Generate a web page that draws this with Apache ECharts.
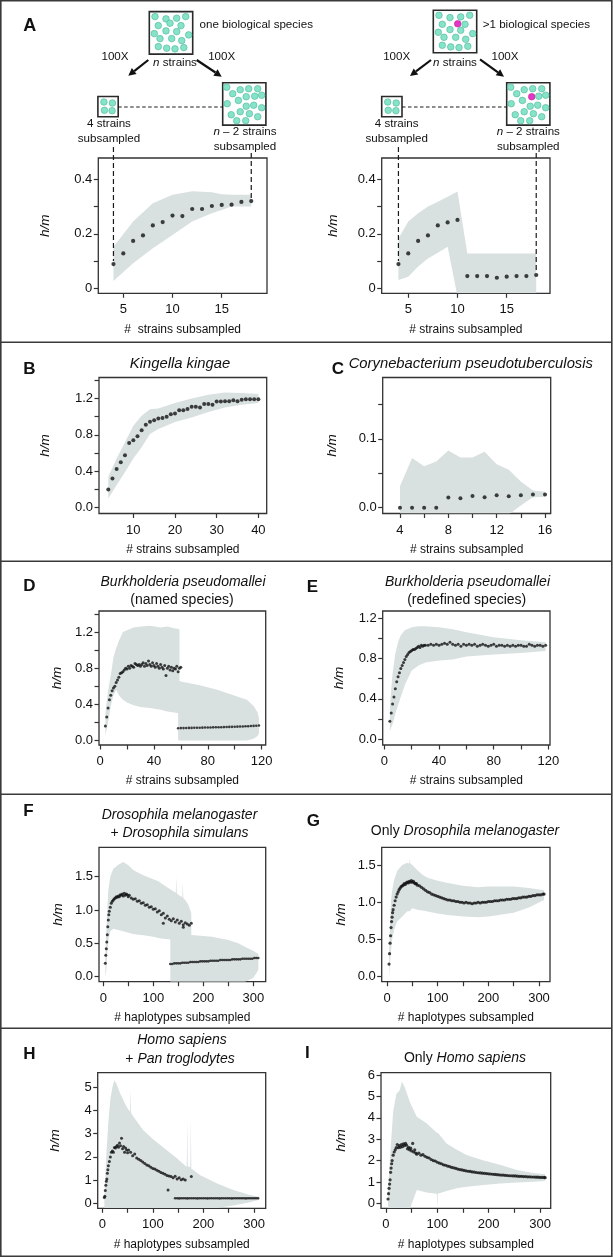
<!DOCTYPE html>
<html><head><meta charset="utf-8">
<script src="https://cdn.jsdelivr.net/npm/echarts@6/dist/echarts.min.js"></script>
<style>html,body{margin:0;padding:0;background:#fff}#c{width:613px;height:1258px}</style>
</head><body><div id="c"></div>
<script>
// ---------------- DATA ----------------
// Panel A
const aX = [4,5,6,7,8,9,10,11,12,13,14,15,16,17,18];
const aOneY = [0.089,0.128,0.174,0.194,0.231,0.243,0.267,0.265,0.291,0.291,0.302,0.306,0.307,0.317,0.320];
const aOneBandX = [4,6,8,10,12,14,15,16,18];
const aOneUpper = [0.153,0.245,0.312,0.343,0.356,0.352,0.345,0.343,0.343];
const aOneLower = [0.027,0.092,0.147,0.196,0.245,0.275,0.287,0.300,0.300];
const aMultiY = [0.089,0.128,0.174,0.194,0.231,0.242,0.251,0.045,0.045,0.045,0.039,0.043,0.045,0.045,0.049];
const aMultiBandX = [4,5,6,7,8,9,10,11,18];
const aMultiUpper = [0.183,0.245,0.275,0.300,0.318,0.336,0.355,0.128,0.128];
const aMultiLower = [0.031,0.043,0.080,0.110,0.131,0.153,-0.03,-0.03,-0.03];
const aXTicks = [5,10,15];
const aXLabels = ['5','10','15'];
const aYTicks = [0,0.1,0.2,0.3,0.4];
const aYLabels = ['0','0.2','0.4'];

// Panel B  Kingella kingae
const bX = [4,5,6,7,8,9,10,11,12,13,14,15,16,17,18,19,20,21,22,23,24,25,26,27,28,29,30,31,32,33,34,35,36,37,38,39,40];
const bY = [0.20,0.32,0.425,0.50,0.575,0.71,0.74,0.785,0.85,0.91,0.945,0.96,0.98,0.985,1.0,1.025,1.035,1.07,1.07,1.085,1.11,1.11,1.10,1.14,1.14,1.13,1.165,1.165,1.17,1.17,1.18,1.17,1.185,1.19,1.19,1.19,1.19];
const bBandX = [4,6,8,10,12,14,16,20,24,28,32,36,40];
const bUpper = [0.34,0.54,0.72,0.90,1.01,1.08,1.09,1.15,1.20,1.24,1.265,1.26,1.25];
const bLower = [0.10,0.25,0.39,0.54,0.665,0.81,0.865,0.94,0.99,1.05,1.10,1.13,1.15];
const bXTicks = [10,20,30,40];
const bXLabels = ['10','20','30','40'];
const bYTicks = [0,0.2,0.4,0.6,0.8,1.0,1.2,1.4];
const bYLabels = ['0.0','0.4','0.8','1.2'];

// Panel C  Corynebacterium pseudotuberculosis
const cX = [4,5,6,7,8,9,10,11,12,13,14,15,16];
const cY = [0,0,0,0,0.0146,0.0137,0.017,0.015,0.018,0.0166,0.018,0.019,0.019];
const cUpper = [0.031,0.072,0.060,0.067,0.083,0.073,0.073,0.081,0.063,0.055,0.038,0.025,0.023];
const cLower = [-0.01,-0.01,-0.01,-0.01,-0.01,-0.01,-0.01,-0.01,-0.01,-0.01,0.003,0.015,0.016];
const cXTicks = [4,6,8,10,12,14,16];
const cXLabels = ['4','8','12','16'];
const cYTicks = [0,0.05,0.1,0.15];
const cYLabels = ['0.0','0.1'];

// Panel D  B. pseudomallei (named species)
const dX1 = [4,5,6,7,8,9,10,11,12,13,14,15,16,17,18,19,20,21,22,23,24,25,26,27,28,29,30,31,32,33,34,35,36,37,38,39,40,41,42,43,44,45,46,47,48,49,50,51,52,53,54,55,56,57,58,59,60];
const dY1 = [0.16,0.26,0.36,0.45,0.50,0.55,0.58,0.60,0.64,0.67,0.70,0.74,0.75,0.76,0.78,0.80,0.79,0.82,0.80,0.83,0.82,0.81,0.85,0.84,0.83,0.84,0.82,0.84,0.86,0.82,0.85,0.83,0.88,0.84,0.82,0.86,0.83,0.81,0.85,0.82,0.80,0.84,0.81,0.79,0.83,0.72,0.80,0.82,0.78,0.81,0.77,0.80,0.79,0.82,0.76,0.80,0.81];
const dX2 = [58,60,62,64,66,68,70,72,74,76,78,80,82,84,86,88,90,92,94,96,98,100,102,104,106,108,110,112,114,116,118];
const dY2 = [0.136,0.137,0.137,0.138,0.139,0.139,0.140,0.141,0.141,0.142,0.143,0.143,0.144,0.145,0.146,0.146,0.147,0.148,0.149,0.150,0.151,0.152,0.153,0.154,0.155,0.157,0.158,0.160,0.161,0.163,0.165];
const dBand1X = [4,6,8,10,12,14,17,20,25,30,37,45,50,55,59];
const dUpper1 = [0.30,0.55,0.72,0.92,1.02,1.10,1.20,1.22,1.25,1.26,1.27,1.25,1.26,1.24,1.23];
const dLower1 = [0.05,0.20,0.38,0.50,0.56,0.50,0.45,0.42,0.39,0.37,0.36,0.34,0.32,0.31,0.30];
const dBand2X = [58,61,74,87,99,109,114,117,118];
const dUpper2 = [0.66,0.65,0.61,0.56,0.50,0.45,0.38,0.31,0.24];
const dLower2 = [0.0,0.0,0.0,0.0,0.0,0.0,0.02,0.05,0.08];
const dXTicks = [0,20,40,60,80,100,120];
const dXLabels = ['0','40','80','120'];
const dYTicks = [0,0.2,0.4,0.6,0.8,1.0,1.2,1.4];
const dYLabels = ['0.0','0.4','0.8','1.2'];

// Panel E  B. pseudomallei (redefined species)
const eX = [4,5,6,7,8,9,10,11,12,13,14,15,16,17,18,19,20,21,22,23,24,25,26,27,28,29,30,
  32,34,36,38,40,42,44,46,48,50,52,54,56,58,60,62,64,66,68,70,72,74,76,78,80,82,84,86,88,90,92,94,96,98,100,102,104,106,108,110,112,114,116,118];
const eY = [0.18,0.26,0.35,0.42,0.50,0.57,0.62,0.66,0.70,0.73,0.76,0.79,0.82,0.84,0.86,0.87,0.88,0.89,0.89,0.90,0.91,0.92,0.91,0.93,0.92,0.93,0.93,
  0.93,0.94,0.93,0.94,0.93,0.94,0.95,0.94,0.96,0.94,0.93,0.94,0.92,0.94,0.93,0.94,0.93,0.94,0.92,0.93,0.94,0.93,0.92,0.93,0.94,0.92,0.93,0.93,0.92,0.93,0.92,0.93,0.92,0.93,0.93,0.92,0.92,0.94,0.93,0.92,0.93,0.93,0.92,0.93];
const eBandX = [4,5,6,8,10,12,15,20,25,30,40,50,60,80,100,118];
const eUpper = [0.30,0.50,0.65,0.85,0.96,1.03,1.08,1.11,1.12,1.12,1.11,1.09,1.06,1.01,0.98,0.96];
const eLower = [0.08,0.12,0.15,0.25,0.34,0.42,0.54,0.68,0.73,0.76,0.78,0.79,0.82,0.84,0.855,0.875];
const eYTicks = [0,0.2,0.4,0.6,0.8,1.0,1.2];
const eYLabels = ['0.0','0.4','0.8','1.2'];

// Panel F  D. melanogaster + D. simulans
const fX1 = [4,5,6,7,8,9,10,11,12,14,16,18,20,22,24,26,28,30,32,34,36,38,40,42,44,46,48,50,52,56,60,64,68,72,76,80,84,88,92,96,100,104,108,112,116,120,124,128,132,136,140,144,148,152,156,160,164,168,172,176,120,160];
const fY1 = [0.2,0.32,0.42,0.52,0.63,0.75,0.85,0.93,0.98,1.04,1.10,1.13,1.15,1.17,1.18,1.20,1.19,1.21,1.20,1.23,1.22,1.24,1.21,1.25,1.22,1.24,1.23,1.20,1.22,1.18,1.16,1.17,1.13,1.14,1.10,1.11,1.07,1.08,1.04,1.05,1.01,1.02,0.97,0.99,0.93,0.95,0.88,0.91,0.86,0.84,0.87,0.82,0.85,0.80,0.83,0.78,0.81,0.79,0.77,0.80,0.80,0.74];
const fX2 = [134,138,142,146,150,154,158,162,166,170,174,178,182,186,190,194,198,202,206,210,214,218,222,226,230,234,238,242,246,250,254,258,262,266,270,274,278,282,286,290,294,298,302,306,310];
const fY2 = [0.19,0.19,0.20,0.20,0.20,0.20,0.21,0.21,0.21,0.21,0.22,0.22,0.22,0.22,0.22,0.23,0.23,0.23,0.23,0.23,0.24,0.24,0.24,0.24,0.24,0.25,0.25,0.25,0.25,0.25,0.25,0.26,0.26,0.26,0.26,0.26,0.27,0.27,0.27,0.27,0.27,0.27,0.28,0.28,0.28];
const fBand1X = [4,6,8,10,14,20,30,40,50,60,70,80,90,100,110,120,130,140,145,146,147,150,158,159,160,165,170,176];
const fUpper1 = [0.3,0.7,1.0,1.3,1.5,1.62,1.68,1.72,1.67,1.6,1.56,1.52,1.49,1.46,1.43,1.38,1.33,1.28,1.26,1.50,1.25,1.23,1.19,1.42,1.18,1.14,1.08,0.95];
const fLower1 = [0.0,0.1,0.35,0.55,0.68,0.72,0.70,0.68,0.66,0.64,0.63,0.62,0.61,0.60,0.58,0.57,0.56,0.55,0.54,0.54,0.54,0.53,0.52,0.52,0.52,0.51,0.50,0.50];
const fBand2X = [134,150,176,200,217,250,270,283,300,310];
const fUpper2 = [0.62,0.63,0.625,0.61,0.60,0.55,0.50,0.45,0.39,0.34];
const fLower2 = [-0.08,-0.08,-0.08,-0.08,-0.08,-0.08,-0.08,-0.08,-0.02,0.10];
const fXTicks = [0,50,100,150,200,250,300];
const fXLabels = ['0','100','200','300'];
const fYTicks = [0,0.5,1.0,1.5];
const fYLabels = ['0.0','0.5','1.0','1.5'];

// Panel G  Only D. melanogaster
const gX = [4,5,6,7,8,9,10,11,12,14,16,18,20,22,24,26,28,30,32,34,36,38,40,42,44,46,48,50,52,54,56,58,60,
  64,68,72,76,80,84,88,92,96,100,104,108,112,116,120,124,128,132,136,140,144,148,152,156,160,164,168,172,176,180,
  184,188,192,196,200,204,208,212,216,220,224,228,232,236,240,244,248,252,256,260,264,268,272,276,280,284,288,292,296,300,304,308,310];
const gY = [0.17,0.31,0.45,0.55,0.66,0.74,0.80,0.86,0.90,0.96,1.02,1.07,1.11,1.14,1.17,1.19,1.21,1.22,1.23,1.25,1.24,1.26,1.27,1.26,1.28,1.27,1.29,1.27,1.28,1.26,1.25,1.25,1.23,
  1.22,1.20,1.18,1.16,1.14,1.13,1.11,1.10,1.09,1.08,1.07,1.06,1.05,1.04,1.03,1.03,1.02,1.02,1.01,1.01,1.00,1.00,0.99,1.00,0.99,0.99,0.98,0.99,0.99,1.00,
  0.99,1.00,1.00,1.00,1.01,1.01,1.01,1.02,1.02,1.02,1.03,1.03,1.03,1.04,1.04,1.04,1.05,1.05,1.05,1.06,1.06,1.07,1.07,1.07,1.08,1.08,1.09,1.09,1.10,1.10,1.10,1.11,1.11];
const gBandX = [4,6,8,10,14,20,30,40,44,45,46,50,60,70,80,100,120,150,180,200,250,280,310];
const gUpper = [0.3,0.72,1.03,1.15,1.3,1.42,1.5,1.53,1.52,1.59,1.52,1.5,1.43,1.37,1.33,1.29,1.26,1.22,1.2,1.21,1.21,1.19,1.16];
const gLower = [0.0,0.2,0.36,0.5,0.63,0.74,0.81,0.88,0.88,0.88,0.89,0.92,0.90,0.89,0.875,0.85,0.83,0.81,0.80,0.81,0.86,0.93,1.03];

// Panel H  Homo sapiens + Pan troglodytes
const hX1 = [4,5,6,7,8,9,10,11,12,14,16,18,20,22,24,26,28,30,32,34,36,38,40,42,44,46,48,50,52,56,60,64,68,72,76,80,84,88,92,96,100,104,108,112,116,120,124,128,130,132,136,140,144,148,152,156,160,164,176];
const hY1 = [0.25,0.30,0.55,0.78,0.95,1.05,1.30,1.45,1.62,1.80,2.00,2.20,2.25,2.20,2.40,2.38,2.45,2.50,2.42,2.60,2.48,2.80,2.35,2.45,2.20,2.38,2.30,2.18,2.30,2.20,2.05,2.12,1.95,1.90,1.85,1.78,1.72,1.65,1.62,1.55,1.50,1.48,1.42,1.38,1.33,1.30,1.25,1.20,0.57,1.18,1.15,1.10,1.17,1.05,1.10,1.02,1.05,1.00,1.15];
const hX2 = [144,148,152,156,160,164,168,172,176,180,184,188,192,196,200,204,208,212,216,220,224,228,232,236,240,244,248,252,256,260,264,268,272,276,280,284,288,292,296,300,304,308];
const hY2 = [0.22,0.22,0.21,0.22,0.22,0.22,0.21,0.22,0.22,0.22,0.22,0.21,0.22,0.22,0.22,0.22,0.21,0.22,0.22,0.22,0.22,0.22,0.21,0.22,0.22,0.22,0.22,0.22,0.21,0.22,0.22,0.22,0.22,0.22,0.22,0.21,0.22,0.22,0.22,0.22,0.22,0.22];
const hBandX = [4,6,8,10,12,16,20,24,28,35,48,55,56,57,61,81,101,127,147,165,167,168,169,174,175,176,193,226,259,292,310];
const hUpper = [0.3,1.2,2.1,2.8,3.5,4.5,5.0,5.3,5.15,4.75,4.15,3.95,4.9,3.9,3.75,3.15,2.75,2.3,1.95,1.6,1.6,3.6,1.6,1.55,3.7,1.5,1.22,0.86,0.57,0.36,0.28];
const hLower = [-0.2,-0.2,-0.2,-0.2,-0.2,-0.2,-0.2,-0.2,-0.2,-0.2,-0.2,-0.2,-0.2,-0.2,-0.2,-0.2,-0.2,-0.2,-0.2,-0.2,-0.2,-0.2,-0.2,-0.2,-0.2,-0.2,-0.2,-0.2,-0.1,0.05,0.15];
const hYTicks = [0,1,2,3,4,5];
const hYLabels = ['0','1','2','3','4','5'];

// Panel I  Only Homo sapiens
const iX = [4,5,6,7,8,9,10,11,12,14,16,18,20,22,24,26,28,30,32,34,36,38,40,42,44,46,48,50,52,54,56,58,60,
  64,68,72,76,80,84,88,92,96,100,104,108,112,116,120,124,128,132,136,140,144,148,152,156,160,164,168,172,176,180,
  184,188,192,196,200,204,208,212,216,220,224,228,232,236,240,244,248,252,256,260,264,268,272,276,280,284,288,292,296,300,304,308,310];
const iY = [0.20,0.45,0.70,0.90,1.10,1.45,1.65,1.85,2.00,2.25,2.40,2.50,2.60,2.75,2.60,2.70,2.62,2.75,2.65,2.78,2.70,2.80,2.72,2.55,2.62,2.50,2.58,2.45,2.80,2.40,2.50,2.35,2.30,
  2.35,2.25,2.28,2.20,2.15,2.12,2.05,2.00,1.98,1.92,1.88,1.85,1.80,1.78,1.74,1.72,1.68,1.66,1.63,1.60,1.58,1.56,1.54,1.52,1.50,1.49,1.47,1.46,1.44,1.43,
  1.42,1.41,1.40,1.39,1.38,1.37,1.36,1.35,1.34,1.33,1.32,1.32,1.31,1.30,1.29,1.29,1.28,1.28,1.27,1.26,1.26,1.25,1.25,1.24,1.24,1.23,1.23,1.22,1.22,1.21,1.21,1.21,1.20];
const iBandX = [4,8,14,20,27,31,37,47,60,79,99,100,101,118,138,157,190,222,255,287,310];
const iUpper = [0.5,2.2,4.3,5.1,5.3,5.7,5.4,4.7,4.05,3.75,3.3,3.3,3.3,2.8,2.5,2.26,2.0,1.8,1.56,1.42,1.36];
const iLower = [-0.23,-0.23,-0.23,-0.23,-0.23,-0.23,-0.23,-0.23,0.62,0.50,0.45,-0.23,0.45,0.58,0.70,0.78,0.86,0.93,0.97,1.01,1.04];
const iYTicks = [0,1,2,3,4,5,6];
const iYLabels = ['0','1','2','3','4','5','6'];

// ---------------- STYLE ----------------
const HAS_NARROW = (() => {
  const c = document.createElement('canvas').getContext('2d');
  const t = 'abcdefghijklmnopqrstuvwxyz0123456789';
  c.font = '40px monospace'; const w1 = c.measureText(t).width;
  c.font = '40px "Liberation Sans Narrow", monospace'; const w2 = c.measureText(t).width;
  return Math.abs(w1 - w2) > 1;
})();
const FF = HAS_NARROW ? '"Liberation Sans Narrow", "Liberation Sans", sans-serif' : '"Liberation Sans", Arial, sans-serif';
const FB = '"Liberation Sans", Arial, sans-serif';
const S = HAS_NARROW ? {tick:15, xname:14.4, yname:16, title:17.5, title2:17, diag:13.9}
                     : {tick:13, xname:12, yname:13.5, title:14.8, title2:14, diag:11.6};
const TXT = '#111', AX = '#333', BAND = '#d9e0e0', DOT = '#111';
const MINT = '#84e3c9', MINT_S = '#4fb596', MAG = '#e635c2';

const layout = [
 {g:[98.3,158,267,293.3], x:[2.46,19.6], y:[-0.018,0.478], xt:aXTicks, xl:aXLabels, yt:aYTicks, yl:aYLabels, xn:'#  strains subsampled', yc:53},
 {g:[381.7,158,550,293.3], x:[2.3,19.4], y:[-0.018,0.478], xt:aXTicks, xl:aXLabels, yt:aYTicks, yl:aYLabels, xn:'# strains subsampled', yc:48.5},
 {g:[99,377.5,266.7,513.5], x:[1.77,42.0], y:[-0.064,1.43], xt:bXTicks, xl:bXLabels, yt:bYTicks, yl:bYLabels, xn:'# strains subsampled', yc:54},
 {g:[382.7,377.5,550.7,513.5], x:[2.57,16.47], y:[-0.0085,0.189], xt:cXTicks, xl:cXLabels, yt:cYTicks, yl:cYLabels, xn:'# strains subsampled', yc:50},
 {g:[99,611,265.7,745], x:[-0.74,123], y:[-0.05,1.432], xt:dXTicks, xl:dXLabels, yt:dYTicks, yl:dYLabels, xn:'# strains subsampled', yc:41.5},
 {g:[382.7,611,550,745], x:[-1.24,121.2], y:[-0.056,1.27], xt:dXTicks, xl:dXLabels, yt:eYTicks, yl:eYLabels, xn:'# strains subsampled', yc:43},
 {g:[99,847.3,265.7,981.7], x:[-8.6,324.8], y:[-0.075,1.94], xt:fXTicks, xl:fXLabels, yt:fYTicks, yl:fYLabels, xn:'# haplotypes subsampled', yc:41},
 {g:[381.7,847.3,550,981.7], x:[-10.5,321.7], y:[-0.067,1.738], xt:fXTicks, xl:fXLabels, yt:fYTicks, yl:fYLabels, xn:'# haplotypes subsampled', yc:40},
 {g:[97.7,1072.7,265.7,1208.3], x:[-9.1,323.1], y:[-0.216,5.63], xt:fXTicks, xl:fXLabels, yt:hYTicks, yl:hYLabels, xn:'# haplotypes subsampled', yc:42},
 {g:[381,1072.7,550.7,1208.3], x:[-9.7,320.8], y:[-0.234,6.11], xt:fXTicks, xl:fXLabels, yt:iYTicks, yl:iYLabels, xn:'# haplotypes subsampled', yc:40}
];

function fmt(labels) {
  return v => { const k = labels.findIndex(l => Math.abs(Number(l) - v) < 1e-9); return k >= 0 ? labels[k] : ''; };
}
const grids = [], xAxes = [], yAxes = [];
layout.forEach((L, i) => {
  grids.push({left:L.g[0], top:L.g[1], width:L.g[2]-L.g[0], height:L.g[3]-L.g[1], show:true,
    borderColor:AX, borderWidth:1.3, backgroundColor:'transparent', containLabel:false});
  xAxes.push({type:'value', gridIndex:i, min:L.x[0], max:L.x[1],
    axisLine:{show:false, onZero:false}, splitLine:{show:false},
    axisTick:{show:true, inside:false, length:4.5, lineStyle:{color:AX, width:1.2}, customValues:L.xt},
    axisLabel:{show:true, margin:16.5 - S.tick/2, color:TXT, fontSize:S.tick, fontFamily:FF,
      customValues:L.xl.map(Number), formatter:fmt(L.xl)},
    name:L.xn, nameLocation:'middle', nameGap:36 - S.xname/2,
    nameTextStyle:{color:TXT, fontSize:S.xname, fontFamily:FF}});
  yAxes.push({type:'value', gridIndex:i, min:L.y[0], max:L.y[1],
    axisLine:{show:false, onZero:false}, splitLine:{show:false},
    axisTick:{show:true, inside:false, length:4.5, lineStyle:{color:AX, width:1.2}, customValues:L.yt},
    axisLabel:{show:true, margin:6, color:TXT, fontSize:S.tick, fontFamily:FF,
      customValues:L.yl.map(Number), formatter:fmt(L.yl)},
    name:'h/m', nameLocation:'middle', nameGap:L.yc - S.yname/2,
    nameTextStyle:{color:TXT, fontSize:S.yname, fontFamily:FF, fontStyle:'italic'}});
});

function band(idx, xs, up, lo) {
  return {type:'custom', xAxisIndex:idx, yAxisIndex:idx, silent:true, clip:true, z:1,
    data:[[xs[0], up[0]]],
    renderItem(params, api) {
      const pts = [];
      for (let k = 0; k < xs.length; k++) pts.push(api.coord([xs[k], up[k]]));
      for (let k = xs.length - 1; k >= 0; k--) pts.push(api.coord([xs[k], lo[k]]));
      const cs = params.coordSys;
      return {type:'polygon', shape:{points:pts}, style:{fill:BAND},
        clipPath:{type:'rect', shape:{x:cs.x, y:cs.y, width:cs.width, height:cs.height}}};
    }};
}
function dots(idx, xs, ys, size) {
  return {type:'scatter', xAxisIndex:idx, yAxisIndex:idx, symbolSize:size, silent:true, z:3,
    itemStyle:{color:DOT}, data:xs.map((x, k) => [x, ys[k]])};
}
const series = [
  band(0, aOneBandX, aOneUpper, aOneLower), dots(0, aX, aOneY, 4.2),
  band(1, aMultiBandX, aMultiUpper, aMultiLower), dots(1, aX, aMultiY, 4.2),
  band(2, bBandX, bUpper, bLower), dots(2, bX, bY, 4),
  band(3, cX, cUpper, cLower), dots(3, cX, cY, 4),
  band(4, dBand1X, dUpper1, dLower1), band(4, dBand2X, dUpper2, dLower2), dots(4, dX1, dY1, 3), dots(4, dX2, dY2, 2.6),
  band(5, eBandX, eUpper, eLower), dots(5, eX, eY, 3),
  band(6, fBand1X, fUpper1, fLower1), band(6, fBand2X, fUpper2, fLower2), dots(6, fX1, fY1, 3), dots(6, fX2, fY2, 2.6),
  band(7, gBandX, gUpper, gLower), dots(7, gX, gY, 3.2),
  band(8, hBandX, hUpper, hLower), dots(8, hX1, hY1, 3), dots(8, hX2, hY2, 2.6),
  band(9, iBandX, iUpper, iLower), dots(9, iX, iY, 3.2)
];

const chart = echarts.init(document.getElementById('c'), null, {renderer:'canvas'});
chart.setOption({animation:false, backgroundColor:'#fff', grid:grids, xAxis:xAxes, yAxis:yAxes, series});

// ---------------- DECORATION ----------------
const els = [];
function txt(x, y, text, o) {
  const st = Object.assign({text, fill:TXT, fontSize:S.diag, fontFamily:FF, align:'center', verticalAlign:'middle'}, o || {});
  if (st.rich === true) {
    st.rich = {i:{fontStyle:'italic', fontSize:st.fontSize, fontFamily:st.fontFamily, fill:TXT}};
  }
  els.push({type:'text', x, y, z:20, style:st});
}
function line(x1, y1, x2, y2, o) {
  els.push({type:'line', z:20, shape:{x1, y1, x2, y2}, style:Object.assign({stroke:'#1a1a1a', lineWidth:1.2}, o || {})});
}
function arrow(x1, y1, x2, y2) {
  const dx = x2 - x1, dy = y2 - y1, L = Math.hypot(dx, dy), ux = dx / L, uy = dy / L, hl = 7.5, hw = 3.8;
  const bx = x2 - ux * hl, by = y2 - uy * hl;
  els.push({type:'line', z:20, shape:{x1, y1, x2:bx, y2:by}, style:{stroke:'#111', lineWidth:2.2}});
  els.push({type:'polygon', z:20, shape:{points:[[x2, y2], [bx - uy * hw, by + ux * hw], [bx + uy * hw, by - ux * hw]]}, style:{fill:'#111'}});
}
const BIG = [[5.7,5],[16.7,7.3],[27.4,6.6],[36.4,5],[9,14],[20.7,11.6],[31.7,14],[5,22],[16.7,19.3],[27.4,20],[39.4,23.3],
  [10.7,27],[22.4,27],[32.4,29],[9,35],[17.4,36.6],[25.7,37.3],[34.5,36]];
const BIG2 = [[4,4.5],[10,11],[17.5,7],[26,6],[35,6],[15.7,17.7],[23.5,14],[32,13.5],[39,12.5],[4.5,21],[23.5,23.5],[31,22.5],[39,25],
  [8.5,32],[17.5,29],[26.7,31],[14,38],[23,38],[35,34]];
const SMALL = [[6,5.5],[14.5,6.5],[6.5,13.8],[14.2,14.2]];
function box(x, y, w, h, circles, magIdx, magPos) {
  els.push({type:'rect', z:19, shape:{x, y, width:w, height:h}, style:{fill:'#fff', stroke:'#2a2a2a', lineWidth:1.6}});
  circles.forEach((c, k) => {
    let cx = c[0], cy = c[1], fill = MINT, stroke = MINT_S;
    if (k === magIdx) { cx = magPos[0]; cy = magPos[1]; fill = MAG; stroke = '#c0209f'; }
    els.push({type:'circle', z:20, shape:{cx:x + cx, cy:y + cy, r:3.3}, style:{fill, stroke, lineWidth:0.6}});
  });
}
function diagram(D) {
  box(D.bx, D.by, 43.4, 42.5, BIG, D.mag ? 5 : -1, [24.4, 13.5]);
  txt(D.lblX, 25, D.lbl, {align:'left'});
  txt(D.h1, 56.7, '100X');
  txt(D.n, 62.5, '{i|n} strains', {rich:true});
  txt(D.h2, 56.7, '100X');
  arrow(D.a1[0], D.a1[1], D.a1[2], D.a1[3]);
  arrow(D.a2[0], D.a2[1], D.a2[2], D.a2[3]);
  box(D.sx, 96.5, 20.3, 20.3, SMALL, -1);
  line(D.sx + 20.3, 107, D.nx, 107, {lineDash:[3.5, 2.5], lineWidth:1});
  box(D.nx, 82.7, 43.2, 42.4, BIG2, D.mag ? 6 : -1, [25, 14]);
  txt(D.fourX, 123.3, '4 strains');
  txt(D.fourX, 138.3, 'subsampled');
  txt(D.nmX, 131.7, '{i|n} \u2013 2 strains', {rich:true});
  txt(D.nmX, 146.7, 'subsampled');
}
diagram({bx:149.3, by:11.6, lblX:199.5, lbl:'one biological species', h1:115, n:175, h2:221.7,
  a1:[148.3,60,128.3,75.7], a2:[196.7,60,221.7,76.7], sx:97.9, nx:222.7, fourX:109, nmX:245, mag:false});
diagram({bx:433.3, by:10.3, lblX:482.7, lbl:'>1 biological species', h1:396.7, n:455, h2:505,
  a1:[431,60,410,76], a2:[480,59.3,504,76.7], sx:381.7, nx:506.7, fourX:396.7, nmX:528.3, mag:true});

// dashed guides down to the first / last subsample points
const pL4 = chart.convertToPixel({xAxisIndex:0, yAxisIndex:0}, [aX[0], aOneY[0]]);
const pL18 = chart.convertToPixel({xAxisIndex:0, yAxisIndex:0}, [aX[aX.length-1], aOneY[aOneY.length-1]]);
const pR4 = chart.convertToPixel({xAxisIndex:1, yAxisIndex:1}, [aX[0], aMultiY[0]]);
const pR18 = chart.convertToPixel({xAxisIndex:1, yAxisIndex:1}, [aX[aX.length-1], aMultiY[aMultiY.length-1]]);
const dash = {lineDash:[5, 3], lineWidth:1.2};
line(pL4[0], 147, pL4[0], pL4[1] - 3, dash);
line(pL18[0], 153, pL18[0], pL18[1] - 3, dash);
line(pR4[0], 147, pR4[0], pR4[1] - 3, dash);
line(pR18[0], 153, pR18[0], pR18[1] - 3, dash);

// panel letters
[['A',23.3,26.3,18],['B',23.3,369,17],['C',331.7,369,17],['D',23.3,586.3,17],['E',306.7,587,17],
 ['F',23.3,811.7,17],['G',306.7,821.7,17],['H',23.3,1054,17],['I',305,1053.5,17]].forEach(l => {
  txt(l[1], l[2], l[0], {align:'left', fontFamily:FB, fontWeight:'bold', fontSize:l[3]});
});

// panel titles
const TI = {fontSize:S.title, fontStyle:'italic'};
const TI2 = {fontSize:S.title2, fontStyle:'italic'};
const TN2 = {fontSize:S.title2};
const TR2 = {fontSize:S.title2, rich:true};
txt(180, 364, 'Kingella kingae', TI);
txt(470.8, 364, 'Corynebacterium pseudotuberculosis', TI);
txt(183, 581.7, 'Burkholderia pseudomallei', TI2);
txt(182, 600, '(named species)', TN2);
txt(467.5, 581.7, 'Burkholderia pseudomallei', TI2);
txt(466.7, 600, '(redefined species)', TN2);
txt(179.5, 815, 'Drosophila melanogaster', TI2);
txt(179.5, 833, '+ {i|Drosophila simulans}', TR2);
txt(465, 831, 'Only {i|Drosophila melanogaster}', TR2);
txt(182, 1040, 'Homo sapiens', TI2);
txt(180, 1059, '+ {i|Pan troglodytes}', TR2);
txt(465, 1058, 'Only {i|Homo sapiens}', TR2);

// frame and row separators
els.push({type:'rect', z:30, shape:{x:0.8, y:0.8, width:611, height:1255.4}, style:{fill:null, stroke:'#3a3a3a', lineWidth:1.6}});
[342.3, 561.3, 794.3, 1028.3].forEach(y => line(0, y, 612, y, {stroke:'#3a3a3a', lineWidth:1.5}));

chart.setOption({graphic:{elements:els}});
</script></body></html>
